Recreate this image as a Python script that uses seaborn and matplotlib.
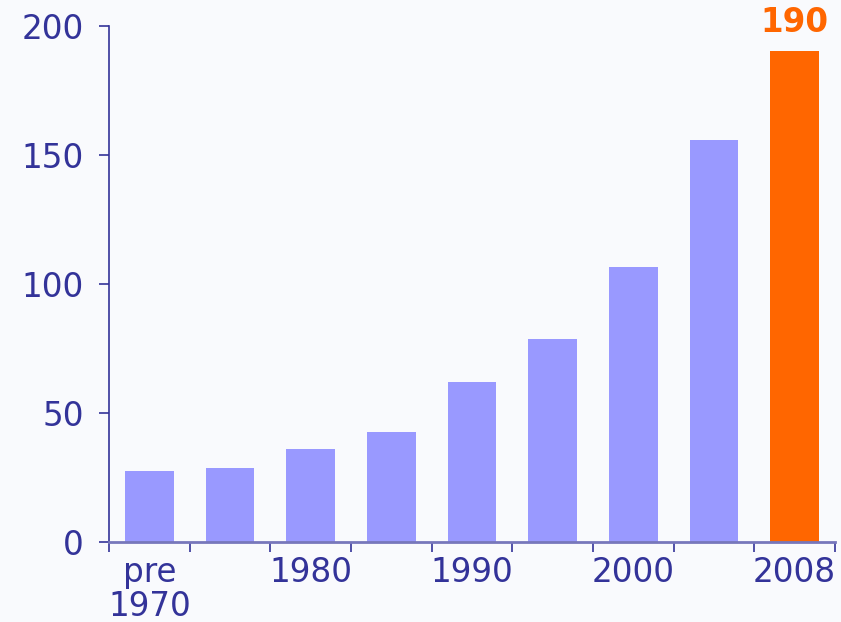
import pandas as pd
import seaborn as sns
import matplotlib.pyplot as plt

categories = ["pre\n1970", "c2", "1980", "c4", "1990", "c6", "2000", "c8", "2008"]
tick_labels = ["pre\n1970", "", "1980", "", "1990", "", "2000", "", "2008"]
values = [27.7, 28.5, 36, 42.5, 62, 78.5, 106.5, 155.8, 190.5]
highlight = [False] * 8 + [True]

df = pd.DataFrame({"cat": categories, "val": values, "hl": highlight})

sns.set_style("white")
plt.rcParams["font.family"] = ["DejaVu Sans"]

text_color = "#333399"
bg = "#f9fafd"

fig = plt.figure(figsize=(8.41, 6.22), dpi=100, facecolor=bg)
ax = fig.add_axes([109 / 841, 80 / 622, 726 / 841, 516 / 622])
ax.set_facecolor(bg)

sns.barplot(data=df, x="cat", y="val", hue="hl", palette={False: "#9999ff", True: "#ff6600"},
            width=0.6, legend=False, ax=ax, saturation=1, linewidth=0)

ax.set_xlim(-0.5, 8.5)
ax.set_ylim(0, 200)
ax.set_yticks([0, 50, 100, 150, 200])
ax.tick_params(axis="y", colors=text_color, labelsize=23.5, length=7, width=1.2, direction="out", pad=11, left=True)

# boundary ticks (major, no labels), labels at category centers (minor, no marks)
ax.set_xticks([i - 0.5 for i in range(10)])
ax.set_xticklabels([])
ax.set_xticks(range(9), minor=True)
ax.set_xticklabels(tick_labels, minor=True)
ax.tick_params(axis="x", which="major", colors=text_color, length=7, width=1.2, bottom=True)
ax.tick_params(axis="x", which="minor", length=0, labelsize=23.5, labelcolor=text_color, pad=10)
for lbl in ax.get_xticklabels(minor=True):
    lbl.set_linespacing(1.05)

for side in ["top", "right"]:
    ax.spines[side].set_visible(False)
ax.spines["left"].set_color(text_color)
ax.spines["left"].set_linewidth(1.2)
ax.spines["bottom"].set_color("#7777bb")
ax.spines["bottom"].set_linewidth(2)

ax.text(8, 195, "190", ha="center", va="bottom", color="#ff6600",
        fontsize=23.5, fontweight="bold")

ax.set_xlabel("")
ax.set_ylabel("")

fig.savefig("out.png", dpi=100, facecolor=bg)
